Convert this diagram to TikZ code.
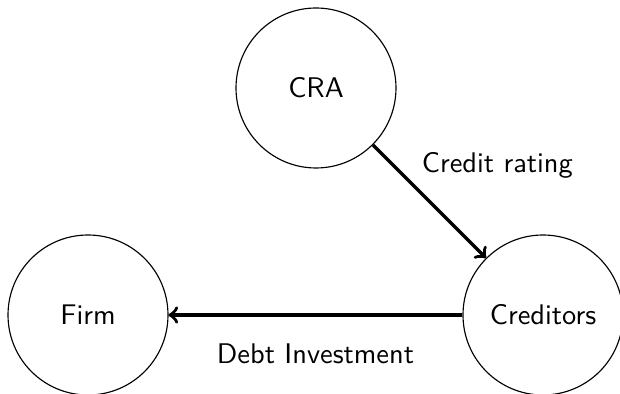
\documentclass[tikz,border=0pt]{standalone}
\begin{document}
\begin{tikzpicture}[x=0.352pt,y=-0.352pt,
  agent/.style={circle,draw,thin,minimum size=160*0.352pt,inner sep=0pt,font=\sffamily},
  flow/.style={->,very thick},
  lbl/.style={font=\sffamily}]
\useasboundingbox (0,0) rectangle (620,394);
\node[agent] (cra) at (316,88) {CRA};
\node[agent] (firm) at (88,315) {Firm};
\node[agent] (cred) at (543,315) {Creditors};
\draw[flow] (cra) -- node[lbl,midway,xshift=23.9pt,yshift=12.8pt] (l1) {Credit rating} (cred);
\draw[flow] (cred) -- node[lbl,midway,yshift=-13.7pt] (l2) {Debt Investment} (firm);
\end{tikzpicture}
\end{document}
